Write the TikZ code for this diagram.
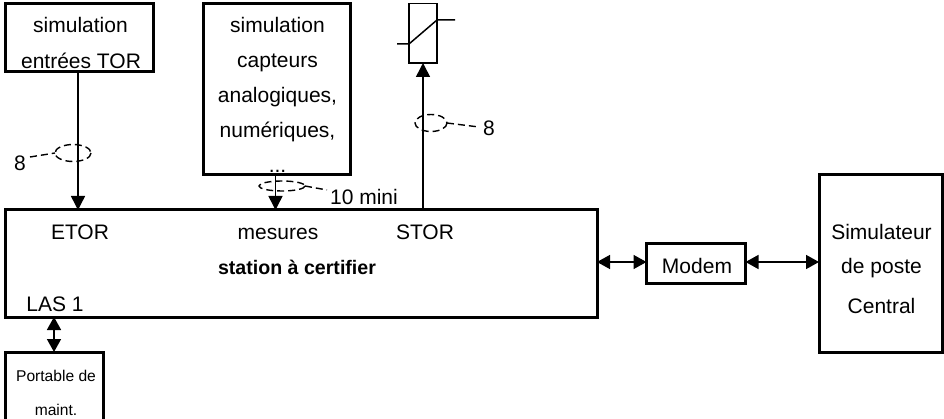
\documentclass[tikz,border=0pt]{standalone}
\usepackage{fontspec}
\setmainfont{Liberation Sans}
\usetikzlibrary{arrows.meta}
\tikzset{
  x=1pt,y=-1pt,
  box/.style={draw=black,line width=3pt,rectangle,inner sep=0pt,outer sep=0pt,anchor=north west},
  thinbox/.style={draw=black,line width=1.8pt,rectangle,inner sep=0pt,outer sep=0pt,anchor=north west},
  txt/.style={anchor=base,inner sep=0pt,font=\fontsize{21}{24}\selectfont},
  small/.style={anchor=base,inner sep=0pt,font=\fontsize{15.6}{18}\selectfont},
  wire/.style={draw=black,line width=1.5pt},
  one/.style={wire,-{Triangle[length=14pt,width=14pt]}},
  two/.style={wire,{Triangle[length=13pt,width=14pt]}-{Triangle[length=13pt,width=14pt]}},
  bundle/.style={draw=black,line width=1.4pt,dash pattern=on 7pt off 4pt},
}
\begin{document}
\begin{tikzpicture}
\useasboundingbox (0,0) rectangle (944,419);
\begin{scope}
\clip (0,0) rectangle (944,419);
\node[box,minimum width=148pt,minimum height=68pt] (tor) at (5.5,3.5) {};
\node[box,minimum width=147pt,minimum height=171.5pt] (ana) at (203,3.5) {};
\node[thinbox,minimum width=28pt,minimum height=59.5pt] (rel) at (409,3.5) {};
\node[box,minimum width=591.5pt,minimum height=107pt] (st) at (5.5,210) {};
\node[box,minimum width=99pt,minimum height=40pt] (mod) at (646.5,243.5) {};
\node[box,minimum width=123pt,minimum height=177pt] (sim) at (819,175) {};
\node[box,minimum width=97.5pt,minimum height=90pt] (por) at (5.5,352) {};
\end{scope}

\node[txt] (t1) at (80.5,33) {simulation};
\node[txt] (t2) at (81,68.5) {entrées TOR};
\node[txt] (a1) at (277.5,33) {simulation};
\node[txt] (a2) at (277.5,68) {capteurs};
\node[txt] (a3) at (277.5,103) {analogiques,};
\node[txt] (a4) at (277.5,138) {numériques,};
\node[txt] (a5) at (277.5,173) {...};
\node[txt] (e1) at (80,240) {ETOR};
\node[txt] (e2) at (278,240) {mesures};
\node[txt] (e3) at (425,240) {STOR};
\node[txt,font=\fontsize{19.6}{22}\selectfont\bfseries] (e4) at (297,275) {station à certifier};
\node[txt] (e5) at (55,312) {LAS 1};
\node[txt] (m1) at (697,274) {Modem};
\node[txt] (s1) at (881.5,240) {Simulateur};
\node[txt] (s2) at (881.5,274) {de poste};
\node[txt] (s3) at (881.5,313) {Central};
\node[small] (p1) at (56,381) {Portable de};
\node[small] (p2) at (56,415) {maint.};
\node[txt] (n1) at (20,170.5) {8};
\node[txt] (n2) at (489,135.5) {8};
\node[txt] (n3) at (364,204.5) {10 mini};

% relay symbol
\coordinate (ra) at (397,44);
\coordinate (rb) at (409,44);
\coordinate (rc) at (437,20);
\coordinate (rd) at (455,20);
\draw[wire] (ra) -- (rb) -- (rc) -- (rd);

% connectors
\draw[one] (tor.south -| 78,0) -- (st.north -| 78,0);
\draw[one] (ana.south -| 275.5,0) -- (st.north -| 275.5,0);
\draw[one] (st.north -| 423,0) -- (rel.south -| 423,0);
\draw[two] (st.east |- 0,262) -- (mod.west |- 0,262);
\draw[two] (mod.east |- 0,262) -- (sim.west |- 0,262);
\draw[two] (st.south -| 54,0) -- (por.north -| 54,0);

% bundle marks
\coordinate (b1) at (73,153);
\coordinate (b2) at (282,186);
\coordinate (b3) at (431,123);
\coordinate (f1) at (30,157);
\draw[bundle] (b1) ellipse [x radius=18,y radius=8.5];
\draw[bundle] (b2) ellipse [x radius=23,y radius=5];
\draw[bundle] (b3) ellipse [x radius=16,y radius=8.5];
\draw[bundle] (f1) -- (55,153);
\draw[bundle] (305,186) -- (327,190);
\draw[bundle] (447,123) -- (479,127);
\end{tikzpicture}
\end{document}
